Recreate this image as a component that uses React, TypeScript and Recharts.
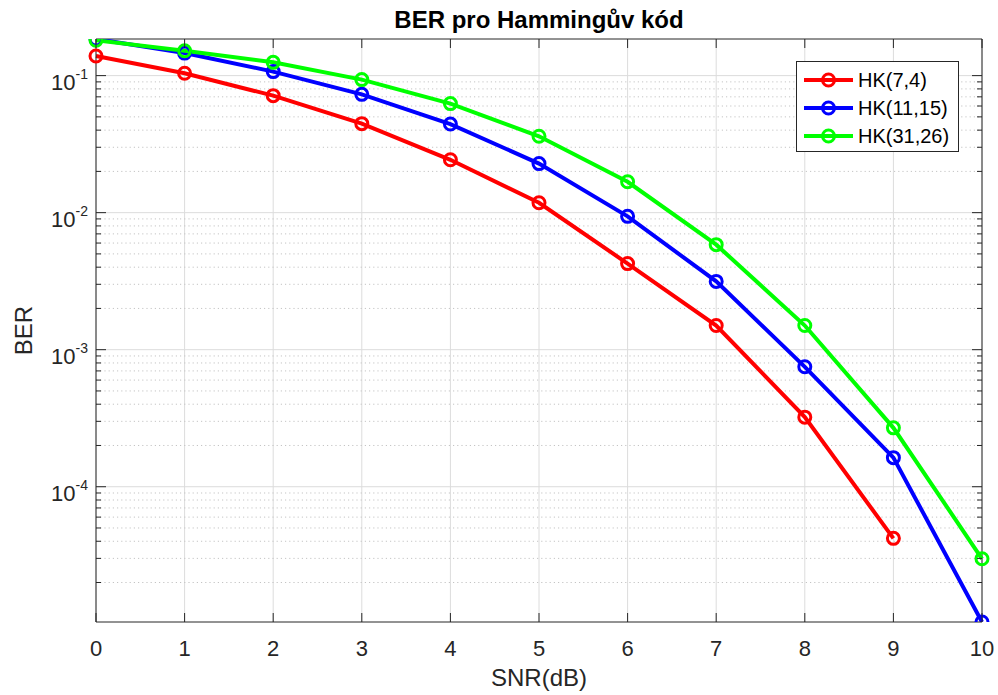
import { CartesianGrid, Legend, Line, LineChart, ReferenceLine, XAxis, YAxis } from "recharts";

// SNR in dB, BER for each Hamming code
const SNR = [0, 1, 2, 3, 4, 5, 6, 7, 8, 9, 10];
const BER_HK74 = [0.139, 0.104, 0.0714, 0.0446, 0.0243, 0.0118, 0.00425, 0.0015, 0.000322, 0.000042, null];
const BER_HK1115 = [0.185, 0.146, 0.107, 0.073, 0.0443, 0.0228, 0.0094, 0.00315, 0.00075, 0.000163, 0.0000103];
const BER_HK3126 = [0.181, 0.152, 0.125, 0.0935, 0.0625, 0.0361, 0.0168, 0.00584, 0.0015, 0.000269, 0.0000298];

const SERIES = [
  { key: "hk74", name: "HK(7,4)", color: "#ff0000" },
  { key: "hk1115", name: "HK(11,15)", color: "#0000ff" },
  { key: "hk3126", name: "HK(31,26)", color: "#00ff00" },
];

const MAJOR_TICKS = [1e-5, 1e-4, 1e-3, 1e-2, 1e-1];
const MINOR_MANTISSA = [2, 3, 4, 5, 6, 7, 8, 9];

const TITLE = "BER pro Hammingův kód";
const X_LABEL = "SNR(dB)";
const Y_LABEL = "BER";

const W = 998;
const H = 695;
const Y_AXIS_W = 96;
const X_AXIS_H = 73;
const MARGIN = { top: 39, right: 16, bottom: 0, left: 0 };
const PLOT_TOP = MARGIN.top;
const PLOT_RIGHT = W - MARGIN.right;
const AXIS = "#262626";
const FONT = '"Liberation Sans", Arial, Helvetica, sans-serif';

const allValues = [...BER_HK74, ...BER_HK1115, ...BER_HK3126].filter((v): v is number => v != null);
const Y_MIN = Math.min(...allValues);
const Y_MAX = Math.max(...allValues);

const data = SNR.map((snr, i) => ({
  snr,
  hk74: BER_HK74[i],
  hk1115: BER_HK1115[i],
  hk3126: BER_HK3126[i],
}));

const inDomain = (v: number) => v >= Y_MIN && v <= Y_MAX;
const majorTicks = MAJOR_TICKS.filter(inDomain);
const minorTicks = MAJOR_TICKS.flatMap((d) => MINOR_MANTISSA.map((m) => +(m * d).toPrecision(3))).filter(inDomain);
const yTicks = [...minorTicks, ...majorTicks].sort((a, b) => a - b);

const XTick = (props: any) => {
  const { x, y, payload } = props;
  return (
    <g>
      <line x1={x} x2={x} y1={y} y2={y - 9} stroke={AXIS} />
      <line x1={x} x2={x} y1={PLOT_TOP} y2={PLOT_TOP + 9} stroke={AXIS} />
      <text x={x} y={y + 34} textAnchor="middle" fontSize={22} fill={AXIS}>
        {payload.value}
      </text>
    </g>
  );
};

const YTick = (props: any) => {
  const { x, y, payload } = props;
  const v = payload.value;
  const major = majorTicks.includes(v);
  const len = major ? 10 : 5;
  return (
    <g>
      <line x1={x} x2={x + len} y1={y} y2={y} stroke={AXIS} />
      <line x1={PLOT_RIGHT} x2={PLOT_RIGHT - len} y1={y} y2={y} stroke={AXIS} />
      {major && (
        <text x={x - 8} y={y + 14.5} textAnchor="end" fill={AXIS}>
          <tspan fontSize={22}>10</tspan>
          <tspan fontSize={14} dy={-11}>
            {Math.round(Math.log10(v))}
          </tspan>
        </text>
      )}
    </g>
  );
};

const YTitle = (props: any) => {
  const vb = props.viewBox;
  const cx = vb.x + vb.width - 64;
  const cy = vb.y + vb.height / 2;
  return (
    <text x={cx} y={cy} transform={`rotate(-90 ${cx} ${cy})`} textAnchor="middle" fontSize={24} fill={AXIS}>
      {Y_LABEL}
    </text>
  );
};

const XTitle = (props: any) => {
  const vb = props.viewBox;
  return (
    <text x={vb.x + vb.width / 2} y={vb.y + 64} textAnchor="middle" fontSize={24} fill={AXIS}>
      {X_LABEL}
    </text>
  );
};

const LegendBox = () => (
  <div
    style={{
      border: `1px solid ${AXIS}`,
      background: "#fff",
      width: 161,
      padding: "4px 0 1px",
      fontFamily: FONT,
      fontSize: 20,
      color: "#000",
    }}
  >
    {SERIES.map((s) => (
      <div key={s.key} style={{ display: "flex", alignItems: "center", height: 28 }}>
        <svg width={56} height={28} style={{ display: "block" }}>
          <line x1={7} x2={56} y1={14} y2={14} stroke={s.color} strokeWidth={4} />
          <circle cx={31.5} cy={14} r={6} fill="none" stroke={s.color} strokeWidth={3} />
        </svg>
        <span style={{ marginLeft: 5, lineHeight: "28px" }}>{s.name}</span>
      </div>
    ))}
  </div>
);

export default function App() {
  return (
    <div style={{ position: "absolute", left: 0, top: 0, width: W, height: H, background: "#fff" }}>
      <LineChart width={W} height={H} data={data} margin={MARGIN} style={{ fontFamily: FONT }}>
        <CartesianGrid horizontal={false} stroke="#dcdcdc" />
        {majorTicks.map((v) => (
          <ReferenceLine key={`M${v}`} y={v} stroke="#dcdcdc" />
        ))}
        {minorTicks.map((v) => (
          <ReferenceLine key={`m${v}`} y={v} stroke="#c4c4c4" strokeDasharray="1.2 3" />
        ))}
        <XAxis
          dataKey="snr"
          type="number"
          domain={[0, 10]}
          ticks={SNR}
          interval={0}
          height={X_AXIS_H}
          tick={<XTick />}
          tickLine={false}
          tickSize={0}
          tickMargin={0}
          axisLine={{ stroke: AXIS }}
          label={<XTitle />}
        />
        <YAxis
          type="number"
          scale="log"
          domain={[Y_MIN, Y_MAX]}
          allowDataOverflow
          ticks={yTicks}
          interval={0}
          width={Y_AXIS_W}
          tick={<YTick />}
          tickLine={false}
          tickSize={0}
          tickMargin={0}
          axisLine={{ stroke: AXIS }}
          label={<YTitle />}
        />
        <ReferenceLine
          y={Y_MAX}
          stroke={AXIS}
          label={{ value: TITLE, position: "top", offset: 11, fontSize: 24, fontWeight: "bold", fill: "#000" }}
        />
        <ReferenceLine x={10} stroke={AXIS} />
        {SERIES.map((s) => (
          <Line
            key={s.key}
            dataKey={s.key}
            name={s.name}
            stroke={s.color}
            strokeWidth={4}
            dot={{ r: 6, strokeWidth: 3, fill: "none", stroke: s.color }}
            isAnimationActive={false}
          />
        ))}
        <Legend
          layout="vertical"
          align="center"
          verticalAlign="middle"
          content={<LegendBox />}
          wrapperStyle={{ left: 796, top: 61, width: "auto", height: "auto" }}
        />
      </LineChart>
    </div>
  );
}
